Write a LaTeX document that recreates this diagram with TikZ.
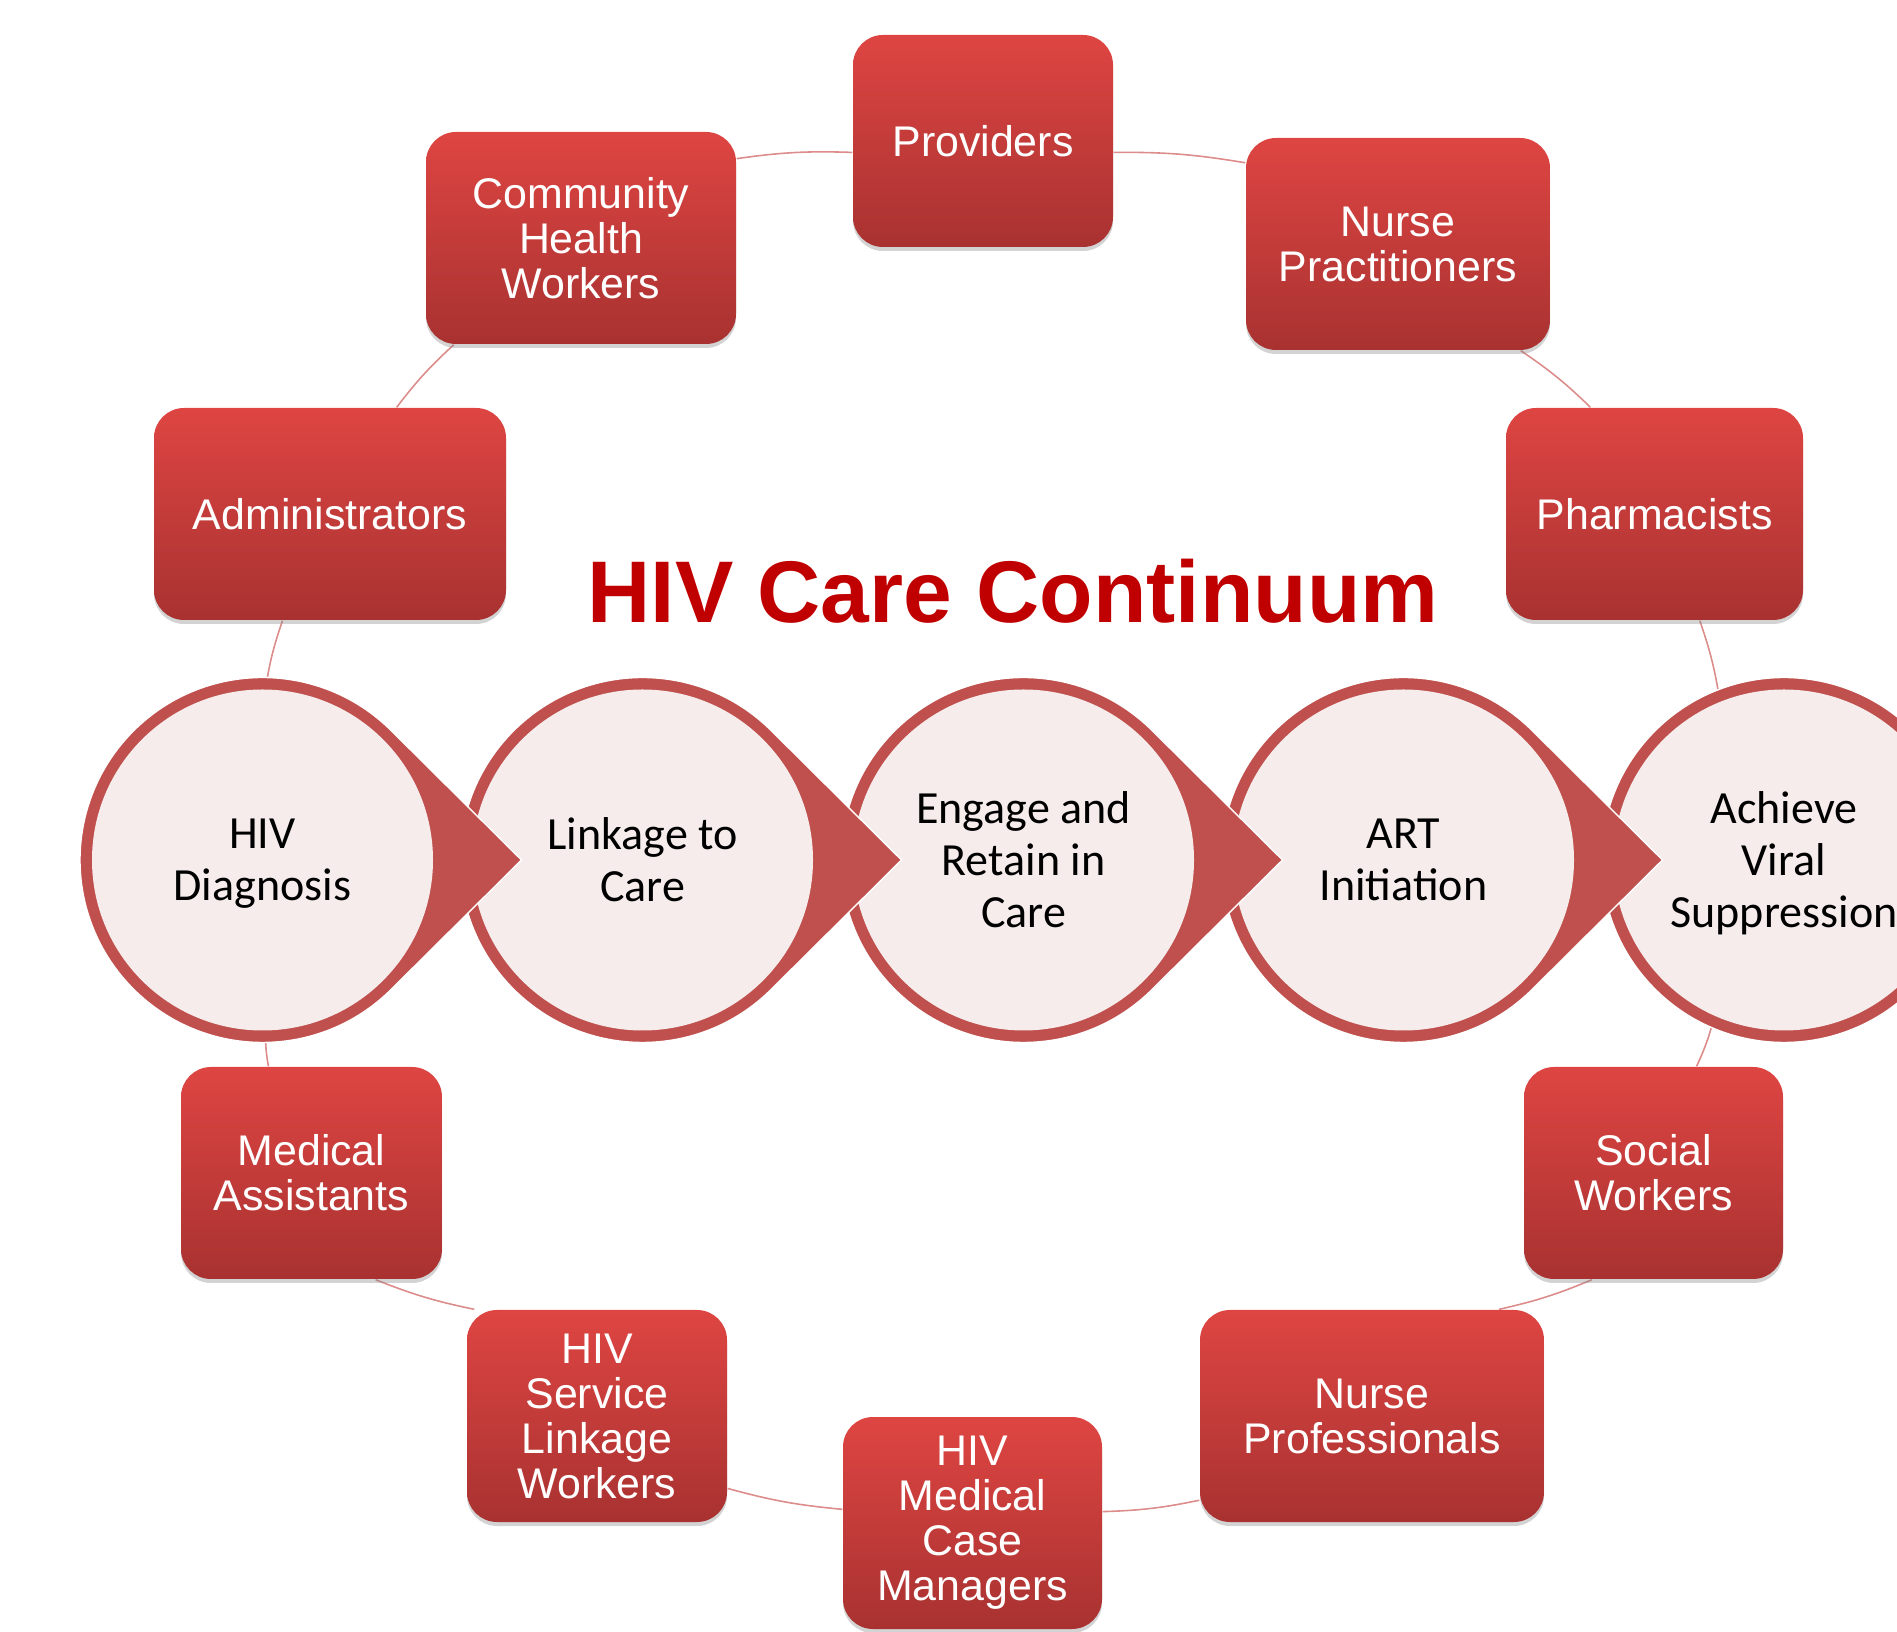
\documentclass[tikz,border=0pt]{standalone}
\usepackage{fontspec}
\setmainfont{Liberation Sans}
\newfontfamily\calibri{Carlito}
\usepackage{tikz}
\usetikzlibrary{shadows,backgrounds}
\definecolor{ringred}{RGB}{192,80,77}
\definecolor{pinkfill}{RGB}{246,236,236}
\definecolor{boxtop}{RGB}{222,69,66}
\definecolor{boxbottom}{RGB}{168,50,49}
\definecolor{titlered}{RGB}{192,0,0}
\definecolor{linkpink}{RGB}{220,140,138}

\tikzset{
    rolebox/.style={rectangle, rounded corners=0.3cm, top color=boxtop, bottom color=boxbottom,
        text=white, align=center, inner sep=0pt, minimum height=2.12cm,
        font=\fontsize{12.2}{12.8}\selectfont,
        drop shadow={opacity=0.35, shadow xshift=0pt, shadow yshift=-0.04cm}},
    stepcircle/.style={circle, fill=pinkfill, minimum size=3.41cm, inner sep=0pt},
    steptext/.style={align=center, inner sep=0pt, font=\calibri\fontsize{13.1}{14.8}\selectfont,
        execute at begin node=\strut, execute at end node=\strut},
    chevron/.style={fill=ringred, draw=white, line width=0.4pt},
    ring/.style={draw=linkpink, line width=0.45pt}
}

\begin{document}
\begin{tikzpicture}
    \useasboundingbox (0,0) rectangle (18.97,16.31);
    \clip (0,0) rectangle (18.97,16.31);

    % Roles around the cycle
    \node[rolebox, minimum width=2.60cm] (prov) at (9.83,14.90) {Providers};
    \node[rolebox, minimum width=3.10cm] (chw) at (5.81,13.93) {Community\\Health\\Workers};
    \node[rolebox, minimum width=3.04cm] (np) at (13.98,13.87) {Nurse\\Practitioners};
    \node[rolebox, minimum width=3.52cm] (admin) at (3.30,11.17) {Administrators};
    \node[rolebox, minimum width=2.97cm] (pharm) at (16.545,11.17) {Pharmacists};
    \node[rolebox, minimum width=2.61cm] (ma) at (3.115,4.58) {Medical\\Assistants};
    \node[rolebox, minimum width=2.59cm] (sw) at (16.535,4.58) {Social\\Workers};
    \node[rolebox, minimum width=2.60cm] (hslw) at (5.97,2.15) {HIV\\Service\\Linkage\\Workers};
    \node[rolebox, minimum width=3.44cm] (nprof) at (13.72,2.15) {Nurse\\Professionals};
    \node[rolebox, minimum width=2.59cm] (hmcm) at (9.725,1.08) {HIV\\Medical\\Case\\Managers};

    % Title
    \node[font=\bfseries\fontsize{24.9}{29}\selectfont, text=titlered, anchor=base] (title) at (10.13,10.08) {HIV Care Continuum};

    % Continuum steps, drawn right to left
    \foreach \cx/\nm/\txt in {17.84/c5/{Achieve\\Viral\\Suppression}, 14.035/c4/{ART\\Initiation},
        10.235/c3/{Engage and\\Retain in\\Care}, 6.425/c2/{Linkage to\\Care}, 2.625/c1/{HIV\\Diagnosis}} {
        \filldraw[chevron] (\cx,7.71) ++(45:1.825) arc[start angle=45, end angle=315, radius=1.825]
            -- (\cx+2.59,7.71) -- cycle;
        \node[stepcircle] (\nm) at (\cx,7.71) {};
        \node[steptext] (\nm-t) at (\cx,7.635) {\txt};
    }

    % Cycle links
    \begin{scope}[on background layer]
        \foreach \a/\b in {chw.27/prov.185, prov.-5/np.152, np.-41/pharm.121, pharm.-67/c5.112,
            c5.-114/sw.68, sw.-120/nprof.40, nprof.-154/hmcm.5, hmcm.174/hslw.-29,
            hslw.139/ma.-59, ma.112/c1.-89, c1.89/admin.-114, admin.58/chw.-140}
            \draw[ring] (\a) to[bend left=5] (\b);
    \end{scope}
\end{tikzpicture}
\end{document}
